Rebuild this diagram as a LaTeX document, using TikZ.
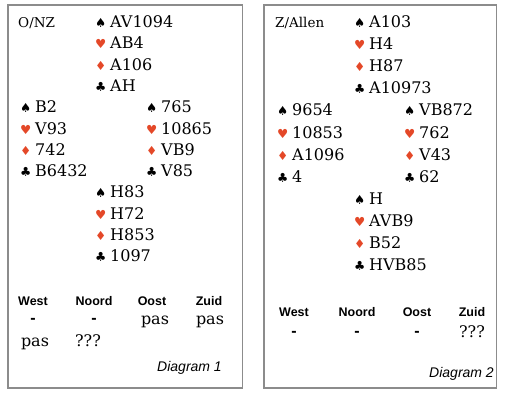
\documentclass[tikz,border=0pt]{standalone}
\usepackage{fontspec}
\setmainfont{DejaVu Serif}
\setsansfont{Liberation Sans}
\newfontfamily\suitfont{DejaVu Sans}
\usepackage{xcolor}
\usepackage{tikz}
\usetikzlibrary{positioning, calc}
\definecolor{suitred}{RGB}{228,72,40}
\definecolor{framegray}{RGB}{140,140,140}
\tikzset{
    board/.style = {draw=framegray, line width=1.3pt},
    card/.style = {anchor=base west, inner sep=0pt, font=\fontsize{16}{18}\selectfont},
    dealer/.style = {anchor=base west, inner sep=0pt, font=\fontsize{13.5}{15}\selectfont},
    bidhead/.style = {anchor=base, inner sep=0pt, font=\sffamily\bfseries\fontsize{12.5}{14}\selectfont},
    bid/.style = {anchor=base, inner sep=0pt, font=\fontsize{16}{18}\selectfont},
    nobid/.style = {anchor=base, inner sep=0pt, font=\sffamily\bfseries\fontsize{16}{16}\selectfont},
    caption/.style = {anchor=base east, inner sep=0pt, font=\sffamily\itshape\fontsize{14}{16}\selectfont},
}
\newcommand{\spd}{\makebox[15pt][l]{\suitfont\fontsize{12.5}{12}\selectfont ♠}}
\newcommand{\hrt}{\makebox[15pt][l]{\suitfont\fontsize{12.5}{12}\selectfont\color{suitred}♥}}
\newcommand{\dia}{\makebox[15pt][l]{\suitfont\fontsize{12.5}{12}\selectfont\color{suitred}♦}}
\newcommand{\clb}{\makebox[15pt][l]{\suitfont\fontsize{12.5}{12}\selectfont ♣}}
% one hand: name, x, y, line step, then the four suits
\newcommand{\hand}[8]{%
    \node[card] (#1s) at (#2,#3) {\spd #5};
    \node[card] (#1h) at (#2,#3+#4) {\hrt #6};
    \node[card] (#1d) at (#2,#3+2*#4) {\dia #7};
    \node[card] (#1c) at (#2,#3+3*#4) {\clb #8};
}
\begin{document}
\begin{tikzpicture}[x=1pt,y=-1pt]
    \useasboundingbox (0,0) rectangle (505,394);
    % diagram 1
    \draw[board] (8,5) rectangle (242.5,388);
    \node[dealer] (deal1) at (18,27) {O/NZ};
    \hand{n1}{95}{27.5}{21.3}{AV1094}{AB4}{A106}{AH}
    \hand{w1}{20}{112.7}{21.3}{B2}{V93}{742}{B6432}
    \hand{e1}{146}{112.7}{21.3}{765}{10865}{VB9}{V85}
    \hand{s1}{95}{197.9}{21.3}{H83}{H72}{H853}{1097}
    \node[bidhead] (west1) at (33,305.5) {West};
    \node[bidhead] (noord1) at (94,305.5) {Noord};
    \node[bidhead] (oost1) at (152,305.5) {Oost};
    \node[bidhead] (zuid1) at (209,305.5) {Zuid};
    \node[nobid] (b1a) at (33,323.5) {-};
    \node[nobid] (b1b) at (94,323.5) {-};
    \node[bid] (b1c) at (155,324.5) {pas};
    \node[bid] (b1d) at (210,324.5) {pas};
    \node[bid] (b1e) at (35,346.5) {pas};
    \node[bid] (b1f) at (88,346) {???};
    \node[caption] (cap1) at (222,371) {Diagram 1};
    % diagram 2
    \draw[board] (264,5) rectangle (496.7,388);
    \node[dealer] (deal2) at (275,27) {Z/Allen};
    \hand{n2}{354}{27.5}{22.1}{A103}{H4}{H87}{A10973}
    \hand{w2}{277}{115.9}{22.1}{9654}{10853}{A1096}{4}
    \hand{e2}{404}{115.9}{22.1}{VB872}{762}{V43}{62}
    \hand{s2}{354}{204.3}{22.1}{H}{AVB9}{B52}{HVB85}
    \node[bidhead] (west2) at (294,316.5) {West};
    \node[bidhead] (noord2) at (357,316.5) {Noord};
    \node[bidhead] (oost2) at (417,316.5) {Oost};
    \node[bidhead] (zuid2) at (472,316.5) {Zuid};
    \node[nobid] (b2a) at (294,336.5) {-};
    \node[nobid] (b2b) at (357,336.5) {-};
    \node[nobid] (b2c) at (417,336.5) {-};
    \node[bid] (b2d) at (472,337) {???};
    \node[caption] (cap2) at (494,377) {Diagram 2};
\end{tikzpicture}
\end{document}
